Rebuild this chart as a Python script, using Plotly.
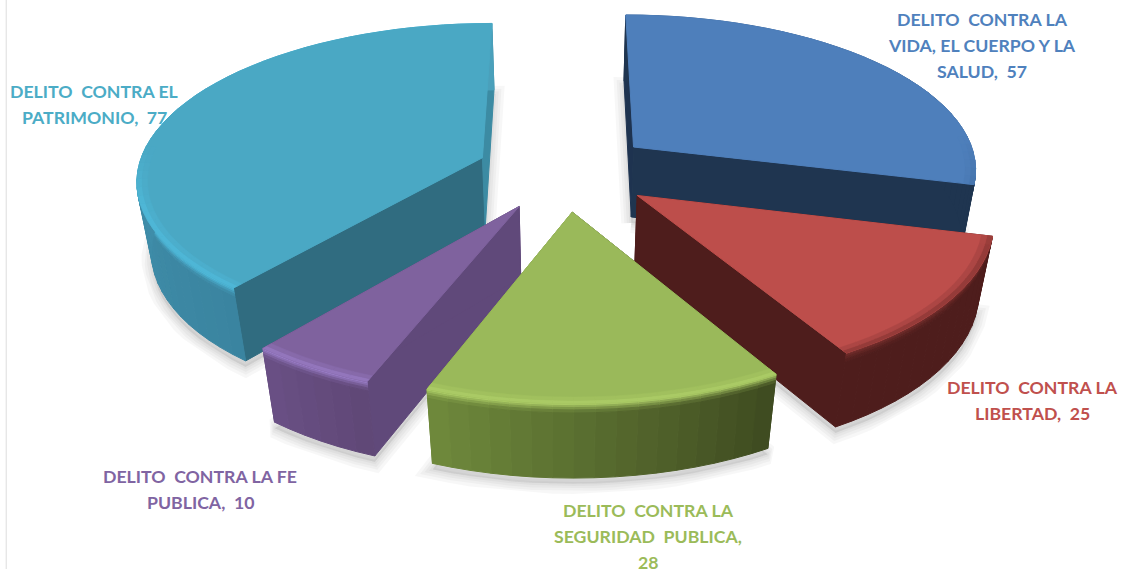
import numpy as np
import plotly.graph_objects as go

categories = ["DELITO  CONTRA LA VIDA, EL CUERPO Y LA SALUD", "DELITO  CONTRA LA LIBERTAD",
              "DELITO  CONTRA LA SEGURIDAD  PUBLICA", "DELITO  CONTRA LA FE PUBLICA",
              "DELITO  CONTRA EL PATRIMONIO"]
values = [57, 25, 28, 10, 77]
label_lines = [["DELITO  CONTRA LA", "VIDA, EL CUERPO Y LA", "SALUD,  57"],
               ["DELITO  CONTRA LA", "LIBERTAD,  25"],
               ["DELITO  CONTRA LA", "SEGURIDAD  PUBLICA,", "28"],
               ["DELITO  CONTRA LA FE", "PUBLICA,  10"],
               ["DELITO  CONTRA EL", "PATRIMONIO,  77"]]
label_pos = [(982, 19), (1032, 387), (648, 510), (200, 476), (94, 91)]
top_col = ["#4E7FBB", "#BD4E4B", "#9AB95A", "#7F629E", "#4AA8C4"]
text_col = ["#4F81BD", "#C0504D", "#9BBB59", "#8064A2", "#4BACC6"]
wall0 = ["#1F3550", "#4E1D1C", "#3E4A20", "#5F4776", "#3A84A0"]   # outer wall at start angle
wall1 = ["#1F3550", "#4E1D1C", "#6F8A3C", "#6A5085", "#4AA0BB"]   # outer wall at end angle
cut0 = ["#1E3350", "#4E1D1C", "#3E4A20", "#60497A", "#306C80"]
cut1 = ["#1F3550", "#4E1D1C", "#6F8A3C", "#60497A", "#3C8BA3"]
rim = ["#3F6BA0", "#7A2F2D", "#B5D66C", "#A083D0", "#50C0E2"]
draw_order = [0, 4, 1, 3, 2]

CX, CY, AX, BY, H = 565, 171, 345, 155, 73
P, Q, EXPLODE = 0.13, 0.035, 0.257


def hex2rgb(c):
    return np.array([int(c[i:i + 2], 16) for i in (1, 3, 5)], float)


def mix(a, b, t):
    v = hex2rgb(a) * (1 - t) + hex2rgb(b) * t
    return "rgb(%d,%d,%d)" % tuple(v.round())


def mixhex(a, b, t):
    v = (hex2rgb(a) * (1 - t) + hex2rgb(b) * t).round().astype(int)
    return "#%02X%02X%02X" % tuple(v)


def proj(x, f, z=0.0):
    w = 1 / (1 - P * f + Q * z)
    return CX + AX * x * w, CY + BY * f * w + H * z * w


def pt(angle, r, mid, z=0.0):
    x = r * np.sin(angle) + EXPLODE * np.sin(mid)
    f = -r * np.cos(angle) - EXPLODE * np.cos(mid)
    return proj(x, f, z)


fig = go.Figure()


def poly(points, color, line=1.0, linecolor=None):
    xs = [p[0] for p in points] + [points[0][0]]
    ys = [p[1] for p in points] + [points[0][1]]
    fig.add_trace(go.Scatter(x=xs, y=ys, mode="lines", fill="toself", fillcolor=color,
                             line=dict(color=linecolor or color, width=line),
                             hoverinfo="skip", showlegend=False))


total = sum(values)
cum = np.cumsum([0] + values) / total * 2 * np.pi
Z_LEVELS = [0, 0.025, 0.05, 0.08, 0.12, 1.0]

for i in draw_order:
    a0, a1 = cum[i], cum[i + 1]
    mid = (a0 + a1) / 2
    n = max(3, int(np.degrees(a1 - a0) / 3))
    ang = np.linspace(a0, a1, n + 1)
    # soft shadow from the base outline
    base = [pt(a0, 0, mid, 1)] + [pt(a, 1, mid, 1) for a in ang]
    shadow = [(p[0], p[1] + 6) for p in base]
    for lw in (20, 14, 9, 4):
        poly(shadow, "rgba(0,0,0,0.02)", line=lw, linecolor="rgba(0,0,0,0.03)")
    # radial cut faces
    for a, col in ((a0, cut0[i]), (a1, cut1[i])):
        poly([pt(a, 0, mid, 0), pt(a, 1, mid, 0), pt(a, 1, mid, 1), pt(a, 0, mid, 1)], col)
    # outer wall
    for k in range(n):
        t = (k + 0.5) / n
        wc = mixhex(wall0[i], wall1[i], t)
        for j in range(len(Z_LEVELS) - 1):
            z0, z1 = Z_LEVELS[j], Z_LEVELS[j + 1]
            tt = min(1.0, (j + 0.5) / 4)
            col = mix(rim[i], wc, tt) if j < 4 else wc
            poly([pt(ang[k], 1, mid, z0), pt(ang[k + 1], 1, mid, z0),
                  pt(ang[k + 1], 1, mid, z1), pt(ang[k], 1, mid, z1)], col)
    # top face
    poly([pt(a0, 0, mid)] + [pt(a, 1, mid) for a in ang], top_col[i])
    # bevel on the front-facing part of the top face edge
    for k in range(n):
        am = (ang[k] + ang[k + 1]) / 2
        front = float(np.clip(-np.cos(am) * 2.5 + 0.2, 0, 1))
        if front <= 0:
            continue
        for r0, r1, s in ((0.985, 1.0, 0.6), (0.97, 0.985, 0.25)):
            poly([pt(ang[k], r0, mid), pt(ang[k + 1], r0, mid),
                  pt(ang[k + 1], r1, mid), pt(ang[k], r1, mid)],
                 mix(top_col[i], rim[i], s * front), line=0.5)

annotations = []
for i, lines in enumerate(label_lines):
    x0, y0 = label_pos[i]
    for k, line in enumerate(lines):
        annotations.append(dict(x=x0, y=y0 + 26 * k, xref="x", yref="y", showarrow=False,
                                text="<b>%s</b>" % line.replace("  ", "\u00a0\u00a0"),
                                xanchor="center", yanchor="middle",
                                font=dict(family="Lato", size=17.7, color=text_col[i])))

fig.update_layout(width=1128, height=569, margin=dict(l=0, r=0, t=0, b=0),
                  paper_bgcolor="white", plot_bgcolor="white", showlegend=False,
                  xaxis=dict(range=[0, 1128], visible=False, fixedrange=True),
                  yaxis=dict(range=[569, 0], visible=False, fixedrange=True),
                  annotations=annotations,
                  shapes=[dict(type="line", xref="paper", yref="paper", x0=0.0055, x1=0.0055,
                               y0=0, y1=1, line=dict(color="#DDDDDD", width=1))])
fig.write_html("out.html", config=dict(displayModeBar=False),
               post_script="document.body.style.margin='0';document.body.style.overflow='hidden';")
